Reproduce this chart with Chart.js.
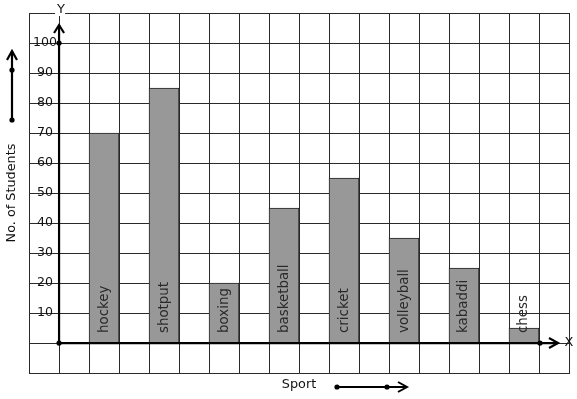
<!DOCTYPE html>
<html><head><meta charset="utf-8">
<script src="https://cdn.jsdelivr.net/npm/chart.js@4/dist/chart.umd.min.js"></script>
<style>html,body{margin:0;padding:0;background:#fff}#wrap{width:577px;height:399px}</style>
</head><body><div id="wrap"><canvas id="c" width="577" height="399"></canvas></div>
<script>
const sports = ['hockey','shotput','boxing','basketball','cricket','volleyball','kabaddi','chess'];
const students = [70,85,20,45,55,35,25,5];
const yTickLabels = [10,20,30,40,50,60,70,80,90,100];
const xAxisTitle = 'Sport';
const yAxisTitle = 'No. of Students';

// graph-paper cells: one empty cell left of the Y axis, then a gap cell before each bar, and a trailing cell
const cellLabels = ['', ''];
const cellValues = [null, null];
sports.forEach((s, i) => {
  cellLabels.push(s); cellValues.push(students[i]);
  cellLabels.push(''); cellValues.push(null);
});

const FONT = 'DejaVu Sans';
const INK = '#111';
const GRID = '#2a2a2a';

const barLabels = {
  id: 'barLabels',
  afterDatasetsDraw(chart) {
    const ctx = chart.ctx;
    const y0 = chart.scales.y.getPixelForValue(0);
    const meta = chart.getDatasetMeta(0);
    ctx.save();
    ctx.font = '13.4px "' + FONT + '"';
    ctx.fillStyle = '#2a2a2a';
    ctx.textAlign = 'left';
    ctx.textBaseline = 'middle';
    meta.data.forEach((bar, i) => {
      if (cellValues[i] === null) return;
      ctx.save();
      ctx.translate(bar.x, y0 - 10);
      ctx.rotate(-Math.PI / 2);
      ctx.fillText(cellLabels[i], 0, 0);
      ctx.restore();
    });
    ctx.restore();
  }
};

function arrowHead(ctx, x, y, dir, len, half) {
  ctx.beginPath();
  if (dir === 'up') {
    ctx.moveTo(x - half, y + len); ctx.lineTo(x, y); ctx.lineTo(x + half, y + len);
  } else {
    ctx.moveTo(x - len, y - half); ctx.lineTo(x, y); ctx.lineTo(x - len, y + half);
  }
  ctx.stroke();
}
function dot(ctx, x, y) {
  ctx.beginPath(); ctx.arc(x, y, 2.6, 0, Math.PI * 2); ctx.fill();
}

const axesDecor = {
  id: 'axesDecor',
  afterDraw(chart) {
    const ctx = chart.ctx;
    const xs = chart.scales.x, ys = chart.scales.y;
    const ca = chart.chartArea;
    const ox = xs.getPixelForValue(0.5);
    const oy = ys.getPixelForValue(0);
    const xEnd = xs.getPixelForValue(16.5);
    const yTop = ys.getPixelForValue(100);
    ctx.save();
    ctx.strokeStyle = '#000';
    ctx.fillStyle = '#000';
    ctx.lineWidth = 2.2;
    ctx.lineCap = 'butt';
    // X axis
    ctx.beginPath(); ctx.moveTo(ox, oy); ctx.lineTo(xEnd + 19, oy); ctx.stroke();
    arrowHead(ctx, xEnd + 19, oy, 'right', 9, 5);
    // Y axis
    ctx.beginPath(); ctx.moveTo(ox, oy); ctx.lineTo(ox, yTop - 18); ctx.stroke();
    arrowHead(ctx, ox, yTop - 18, 'up', 8, 5);
    dot(ctx, ox, oy); dot(ctx, xEnd + 1, oy); dot(ctx, ox, yTop);
    // axis letters
    ctx.font = '13px "' + FONT + '"';
    ctx.textAlign = 'center'; ctx.textBaseline = 'middle';
    ctx.fillStyle = '#fff';
    ctx.fillRect(ox - 4, ca.top - 4, 10, 7);
    ctx.fillStyle = INK;
    ctx.fillText('Y', ox + 2, ca.top - 3);
    ctx.fillText('X', xEnd + 30, oy);
    // side arrow (y title)
    ctx.fillStyle = '#000';
    ctx.lineWidth = 2.2;
    ctx.beginPath(); ctx.moveTo(12, 120); ctx.lineTo(12, 51); ctx.stroke();
    arrowHead(ctx, 12, 51, 'up', 9, 5);
    dot(ctx, 12, 120); dot(ctx, 12, 70);
    // bottom arrow (x title)
    ctx.lineWidth = 2;
    ctx.beginPath(); ctx.moveTo(337, 387); ctx.lineTo(407, 387); ctx.stroke();
    arrowHead(ctx, 407, 387, 'right', 9, 5);
    dot(ctx, 337, 387); dot(ctx, 387, 387);
    ctx.restore();
  }
};

new Chart(document.getElementById('c'), {
  type: 'bar',
  data: {
    labels: cellLabels,
    datasets: [{
      data: cellValues,
      backgroundColor: '#989898',
      borderColor: '#222',
      borderWidth: {top: 1, left: 1, right: 1, bottom: 0},
      borderSkipped: 'start',
      barPercentage: 1,
      categoryPercentage: 1
    }]
  },
  options: {
    responsive: false,
    animation: false,
    devicePixelRatio: 1,
    layout: {padding: {left: 0, top: 13, right: 8, bottom: 0}},
    plugins: {legend: {display: false}, tooltip: {enabled: false}},
    scales: {
      x: {
        type: 'category',
        offset: true,
        grid: {color: GRID, lineWidth: 1, drawTicks: false, offset: true},
        border: {color: GRID, width: 1},
        ticks: {display: false},
        title: {display: true, text: xAxisTitle, color: INK,
          font: {family: FONT, size: 12.8}, padding: {top: 4.3, bottom: 6.3}}
      },
      y: {
        type: 'linear',
        min: -10, max: 110,
        grid: {color: GRID, lineWidth: 1, drawTicks: false},
        border: {color: GRID, width: 1},
        ticks: {
          stepSize: 10, mirror: true, crossAlign: 'center', padding: 4,
          color: INK, font: {family: FONT, size: 12.6},
          callback: v => yTickLabels.includes(v) ? String(v) : ''
        },
        title: {display: true, text: yAxisTitle, color: INK,
          font: {family: FONT, size: 12.8}, padding: {top: 4.3, bottom: 1.4}}
      }
    }
  },
  plugins: [barLabels, axesDecor]
});
</script></body></html>
